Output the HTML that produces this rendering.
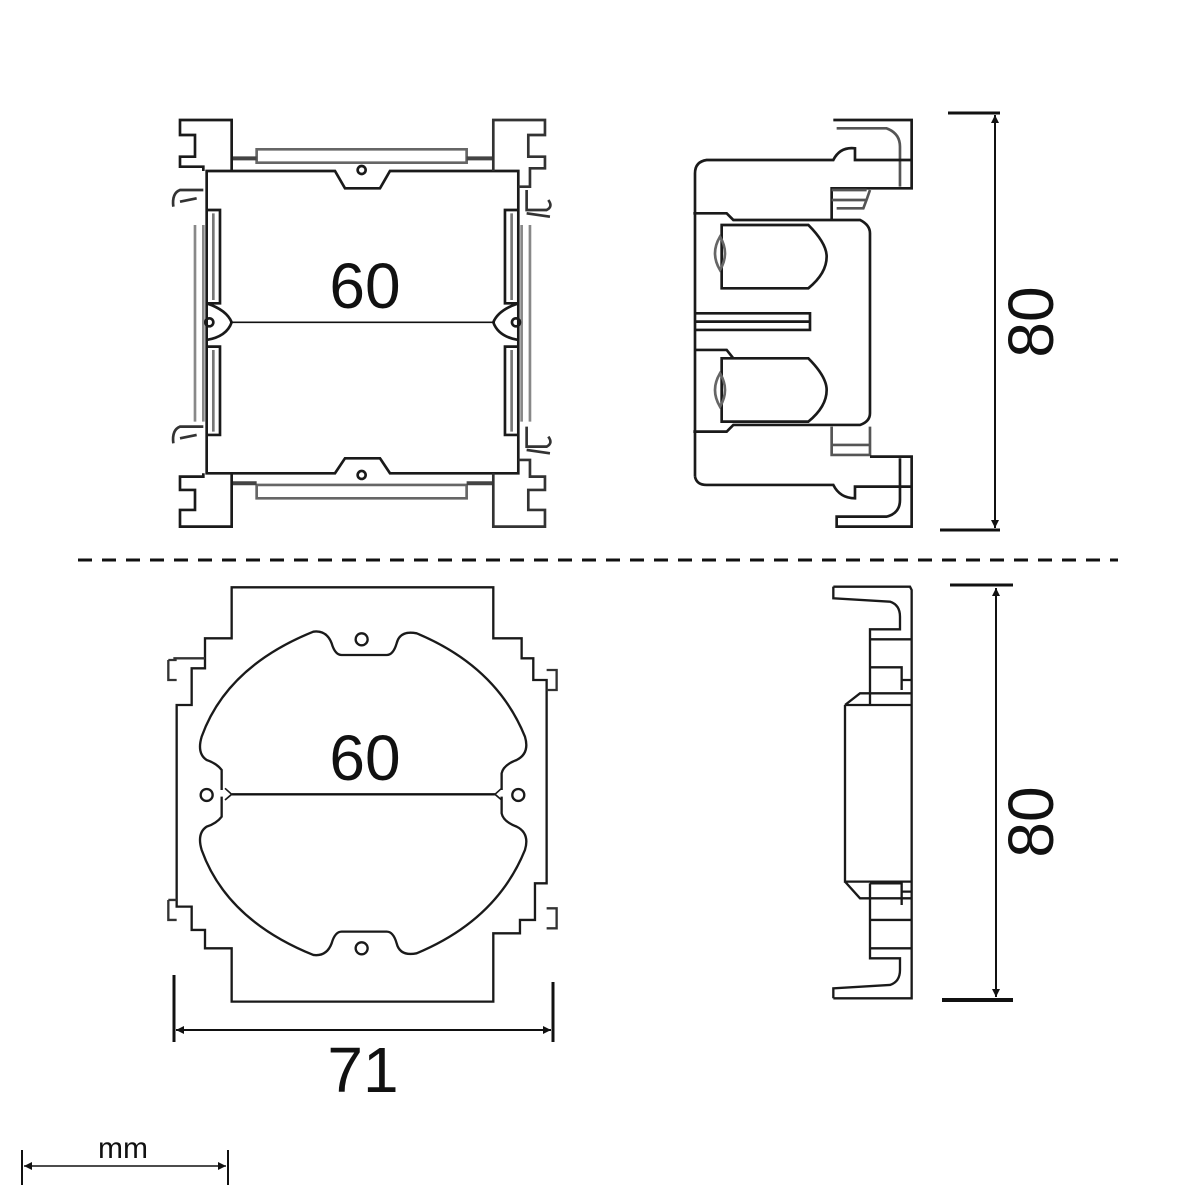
<!DOCTYPE html>
<html><head><meta charset="utf-8"><style>
html,body{margin:0;padding:0;background:#fff;width:1200px;height:1200px;overflow:hidden}
svg{display:block}
text{font-family:"Liberation Sans",sans-serif;fill:#111}
</style></head><body>
<svg width="1200" height="1200" viewBox="0 0 1200 1200" xmlns="http://www.w3.org/2000/svg">
<defs>
<marker id="ar" viewBox="0 0 10 10" refX="10" refY="5" markerWidth="12" markerHeight="8" orient="auto-start-reverse" markerUnits="userSpaceOnUse"><path d="M0,0 L10,5 L0,10 z" fill="#111"/></marker>
</defs>

<!-- TOP LEFT VIEW -->
<g transform="translate(160,110) scale(0.3333)" fill="none" stroke="#1a1a1a" stroke-width="8">
  <path d="M290,118 L920,118 L920,158 L290,158 Z" stroke="#666"/>
  <path d="M215,145 L290,145 M920,145 L1000,145" stroke="#444" stroke-width="12"/>
  <path d="M290,1125 L920,1125 L920,1165 L290,1165 Z" stroke="#666"/>
  <path d="M215,1120 L290,1120 M920,1120 L1000,1120" stroke="#444" stroke-width="12"/>
  <path d="M140,183 L525,183 L555,235 L660,235 L690,183 L1075,183 L1075,1090 L690,1090 L660,1045 L555,1045 L525,1090 L140,1090 Z"/>
  <circle cx="605" cy="180" r="12"/><circle cx="605" cy="1095" r="12"/>
  <path d="M215,183 L215,30 L60,30 L60,75 L105,75 L105,140 L60,140 L60,170 L130,170 L130,183"/>
  <path d="M215,1090 L215,1250 L60,1250 L60,1200 L105,1200 L105,1140 L60,1140 L60,1100 L130,1100 L130,1090"/>
  <path d="M1000,183 L1000,30 L1155,30 L1155,75 L1105,75 L1105,140 L1155,140 L1155,175 L1110,175 L1110,230 L1075,230" stroke="#333"/>
  <path d="M1000,1090 L1000,1250 L1155,1250 L1155,1200 L1105,1200 L1105,1140 L1155,1140 L1155,1100 L1110,1100 L1110,1050 L1075,1050" stroke="#333"/>
  <path d="M130,240 L60,240 Q35,250 40,290 M60,275 L110,265" stroke="#333"/>
  <path d="M130,950 L60,950 Q35,960 40,1000 M60,985 L110,975" stroke="#333"/>
  <path d="M1100,240 L1100,300 L1160,300 Q1180,290 1165,270 M1100,310 L1170,320" stroke="#333"/>
  <path d="M1100,950 L1100,1010 L1160,1010 Q1180,1000 1165,980 M1100,1020 L1170,1030" stroke="#333"/>
  <path d="M105,345 L105,935 M130,345 L130,935" stroke="#888"/>
  <path d="M140,300 L180,300 L180,580 L140,580 M140,710 L180,710 L180,975 L140,975"/>
  <path d="M160,310 L160,570 M160,720 L160,965" stroke="#777"/>
  <path d="M1110,345 L1110,935 M1085,345 L1085,935" stroke="#888"/>
  <path d="M1075,300 L1035,300 L1035,580 L1075,580 M1075,710 L1035,710 L1035,975 L1075,975"/>
  <path d="M1055,310 L1055,570 M1055,720 L1055,965" stroke="#777"/>
  <path d="M140,580 Q200,600 215,637 Q200,680 140,690"/>
  <circle cx="148" cy="637" r="12"/>
  <path d="M1075,580 Q1015,600 1000,637 Q1015,680 1075,690"/>
  <circle cx="1068" cy="637" r="12"/>
  <line x1="210" y1="637" x2="1005" y2="637" stroke="#111" stroke-width="5"/>
</g>
<text x="365" y="308" font-size="64" text-anchor="middle">60</text>

<!-- TOP RIGHT VIEW -->
<g transform="translate(680,110) scale(0.3333)" fill="none" stroke="#1a1a1a" stroke-width="8">
  <path d="M460,30 L695,30 L695,235 L455,235 L455,330"/>
  <path d="M470,55 L620,55 Q660,70 660,110 L660,230" stroke="#555"/>
  <path d="M45,1100 L45,190 Q45,155 80,150 L460,150 Q480,110 525,115 L525,150 L695,150"/>
  <path d="M40,310 L140,310 L160,330 L540,330 Q570,345 570,370 L570,910 Q570,935 540,945 L160,945 L140,965 L40,965"/>
  <path d="M125,345 L385,345 Q440,400 440,440 Q440,490 385,535 L125,535 Z"/>
  <path d="M125,745 L385,745 Q440,800 440,840 Q440,890 385,935 L125,935 Z"/>
  <path d="M120,380 Q90,430 120,480 Q150,430 120,380 Z M120,790 Q90,840 120,890 Q150,840 120,790 Z" stroke="#666"/>
  <path d="M45,610 L390,610 L390,660 L45,660 M45,635 L390,635"/>
  <path d="M45,720 L140,720 L160,745"/>
  <path d="M455,240 L560,240 M455,270 L560,270 M470,295 L550,295 Q560,270 570,240" stroke="#555"/>
  <path d="M455,950 L455,1035 L570,1035 L570,950 M455,1005 L570,1005" stroke="#555"/>
  <path d="M45,1100 Q50,1125 80,1125 L460,1125 Q480,1165 525,1165 L525,1130 L695,1130"/>
  <path d="M570,1040 L695,1040 L695,1250 L470,1250 L470,1220 L620,1220 Q660,1210 660,1170 L660,1045" />
</g>
<line x1="948" y1="113" x2="1000" y2="113" stroke="#111" stroke-width="3"/>
<line x1="940" y1="530" x2="1000" y2="530" stroke="#111" stroke-width="3"/>
<line x1="995" y1="115" x2="995" y2="528" stroke="#111" stroke-width="2" marker-start="url(#ar)" marker-end="url(#ar)"/>
<text x="1031" y="322" font-size="64" text-anchor="middle" dominant-baseline="central" transform="rotate(-90 1031 322)">80</text>

<line x1="78" y1="560" x2="1118" y2="560" stroke="#111" stroke-width="3" stroke-dasharray="14,10"/>

<!-- BOTTOM LEFT PLATE -->
<g transform="translate(160,580) scale(0.3333)" fill="none" stroke="#1a1a1a" stroke-width="7">
  <path d="M215,22 L1000,22 L1000,175 L1085,175 L1085,235 L1120,235 L1120,300 L1160,300 L1160,910 L1125,910 L1125,1020 L1080,1020 L1080,1060 L1000,1060 L1000,1265 L215,1265 L215,1105 L135,1105 L135,1050 L95,1050 L95,980 L50,980 L50,375 L95,375 L95,265 L135,265 L135,235 L135,175 L215,175 Z"/>
  <path d="M40,235 L135,235 M25,240 L25,300 L50,300 M25,240 L50,240" stroke="#333"/>
  <path d="M25,960 L25,1020 L50,1020 M25,960 L50,960" stroke="#333"/>
  <path d="M1160,270 L1190,270 L1190,330 L1160,330 M1160,985 L1190,985 L1190,1045 L1160,1045" stroke="#333"/>
  <path d="M185,630 L185,570 Q170,550 140,540 Q110,520 125,470 Q200,260 460,155 Q500,150 515,190 Q525,225 545,225 L680,225 Q700,225 710,190 Q720,150 770,160 Q1010,260 1095,470 Q1110,520 1070,540 Q1030,555 1025,580 L1025,630"/>
  <path d="M185,650 L185,710 Q170,730 140,740 Q110,760 125,810 Q200,1020 460,1125 Q500,1130 515,1090 Q525,1055 545,1055 L680,1055 Q700,1055 710,1090 Q720,1130 770,1120 Q1010,1020 1095,810 Q1110,760 1070,740 Q1030,725 1025,700 L1025,650"/>
  <circle cx="605" cy="178" r="18"/><circle cx="605" cy="1105" r="18"/>
  <circle cx="140" cy="645" r="18"/><circle cx="1075" cy="645" r="18"/>
  <line x1="215" y1="643" x2="1005" y2="643" stroke="#111" stroke-width="7"/>
  <path d="M195,625 L215,643 L195,660 M1025,625 L1005,643 L1025,660" stroke-width="5"/>
</g>
<text x="365" y="780" font-size="64" text-anchor="middle">60</text>
<line x1="174" y1="975" x2="174" y2="1042" stroke="#111" stroke-width="3"/>
<line x1="553" y1="982" x2="553" y2="1042" stroke="#111" stroke-width="3"/>
<line x1="176" y1="1030" x2="551" y2="1030" stroke="#111" stroke-width="2" marker-start="url(#ar)" marker-end="url(#ar)"/>
<text x="363" y="1092" font-size="64" text-anchor="middle">71</text>

<!-- BOTTOM RIGHT VIEW -->
<g transform="translate(820,580) scale(0.3333)" fill="none" stroke="#1a1a1a" stroke-width="7">
  <path d="M40,20 L270,20 L275,30 L275,1255 L40,1255"/>
  <path d="M40,20 L40,55 L210,65 Q240,75 240,110 L240,148 L150,148 L150,375"/>
  <path d="M40,1255 L40,1225 L210,1215 Q240,1205 240,1170 L240,1135 L150,1135 L150,910"/>
  <path d="M75,375 L275,375 M75,375 L75,905 L275,905 M75,375 L120,340 L275,340 M75,905 L120,955 L275,955"/>
  <path d="M150,178 L275,178 M150,262 L245,262 L245,330 M245,300 L275,300"/>
  <path d="M150,1020 L275,1020 M150,1105 L275,1105 M150,910 L245,910 L245,975 M245,935 L275,935"/>
</g>
<line x1="950" y1="585" x2="1013" y2="585" stroke="#111" stroke-width="3"/>
<line x1="942" y1="1000" x2="1013" y2="1000" stroke="#111" stroke-width="4"/>
<line x1="996" y1="588" x2="996" y2="997" stroke="#111" stroke-width="2" marker-start="url(#ar)" marker-end="url(#ar)"/>
<text x="1031" y="822" font-size="64" text-anchor="middle" dominant-baseline="central" transform="rotate(-90 1031 822)">80</text>

<line x1="22" y1="1150" x2="22" y2="1185" stroke="#111" stroke-width="2"/>
<line x1="228" y1="1150" x2="228" y2="1185" stroke="#111" stroke-width="2"/>
<line x1="24" y1="1166" x2="226" y2="1166" stroke="#111" stroke-width="1.5" marker-start="url(#ar)" marker-end="url(#ar)"/>
<text x="123" y="1158" font-size="30" text-anchor="middle">mm</text>
</svg>
</body></html>
